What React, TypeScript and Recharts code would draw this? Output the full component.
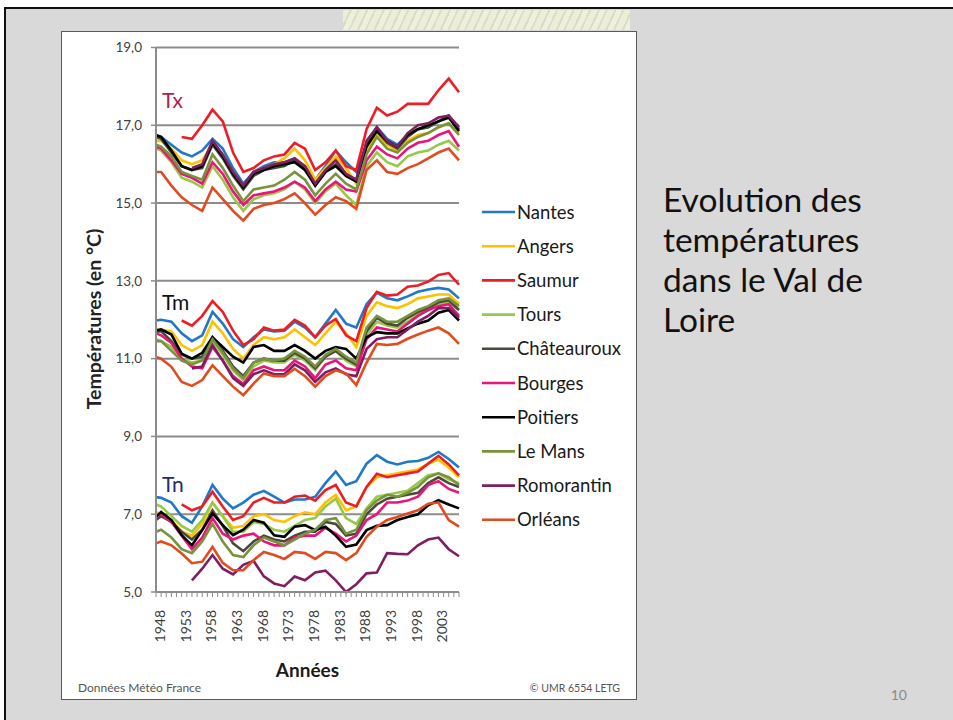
import { LineChart, Line, XAxis, YAxis, CartesianGrid } from 'recharts';

const FONT = 'Lato, "Open Sans", sans-serif';

// sampled years (the curves are read every two years off the picture)
const YEARS = [
  1948, 1949, 1951, 1953, 1955, 1957, 1959, 1961, 1963, 1965, 1967, 1969, 1971, 1973, 1975, 1977,
  1979, 1981, 1983, 1985, 1987, 1989, 1991, 1993, 1995, 1997, 1999, 2001, 2003, 2005, 2007,
];

const STATIONS = [
  'Nantes', 'Angers', 'Saumur', 'Tours', 'Châteauroux',
  'Bourges', 'Poitiers', 'Le Mans', 'Romorantin', 'Orléans',
];

const COLORS = [
  '#1f78c8', '#ffc000', '#ee1c25', '#98c84a', '#4a4a3c',
  '#ec1379', '#000000', '#77933c', '#7f1f5f', '#e24a1f',
];

const TX: Record<string, (number | null)[]> = {
  Nantes: [16.7, 16.7, 16.5, 16.3, 16.2, 16.35, 16.65, 16.4, 15.9, 15.5, 15.8, 15.95, 16.05, 16.05, 16.1, 15.95, 15.6, 15.95, 16.35, 16.05, 15.8, 16.5, 16.95, 16.65, 16.5, 16.75, 16.9, 16.95, 17.1, 17.2, 16.95],
  Angers: [16.6, 16.6, 16.4, 16.1, 16.0, 16.1, 16.5, 16.2, 15.8, 15.4, 15.75, 15.9, 16.0, 16.15, 16.4, 16.1, 15.6, 15.9, 16.2, 15.9, 15.5, 16.35, 16.8, 16.5, 16.35, 16.6, 16.75, 16.8, 16.95, 17.05, 16.8],
  Saumur: [null, null, null, 16.7, 16.65, 17.0, 17.4, 17.1, 16.3, 15.8, 15.9, 16.1, 16.2, 16.25, 16.55, 16.4, 15.85, 16.05, 16.35, 15.95, 15.85, 16.9, 17.45, 17.25, 17.35, 17.55, 17.55, 17.55, 17.9, 18.2, 17.85],
  Tours: [16.4, 16.35, 16.05, 15.65, 15.55, 15.4, 15.95, 15.6, 15.15, 14.8, 15.1, 15.2, 15.25, 15.35, 15.55, 15.35, 15.0, 15.3, 15.5, 15.2, 14.95, 15.95, 16.3, 16.05, 15.95, 16.2, 16.3, 16.35, 16.5, 16.6, 16.35],
  'Châteauroux': [16.7, 16.65, 16.3, 15.95, 15.85, 15.9, 16.5, 16.15, 15.7, 15.35, 15.7, 15.85, 15.9, 15.95, 16.1, 15.9, 15.45, 15.8, 16.0, 15.7, 15.6, 16.55, 16.85, 16.55, 16.4, 16.7, 16.9, 16.95, 17.1, 17.25, 16.9],
  Bourges: [16.45, 16.4, 16.1, 15.75, 15.65, 15.5, 16.05, 15.75, 15.3, 14.95, 15.2, 15.25, 15.3, 15.4, 15.55, 15.4, 15.05, 15.35, 15.55, 15.35, 15.3, 16.1, 16.45, 16.25, 16.15, 16.4, 16.55, 16.6, 16.75, 16.85, 16.45],
  Poitiers: [16.75, 16.7, 16.35, 15.95, 15.85, 15.95, 16.55, 16.2, 15.75, 15.4, 15.75, 15.85, 15.95, 16.0, 16.05, 15.85, 15.45, 15.8, 15.95, 15.7, 15.55, 16.45, 16.85, 16.6, 16.45, 16.75, 16.9, 17.0, 17.1, 17.2, 16.85],
  'Le Mans': [16.5, 16.45, 16.2, 15.8, 15.7, 15.6, 16.25, 15.9, 15.45, 15.05, 15.35, 15.4, 15.45, 15.6, 15.8, 15.6, 15.2, 15.5, 15.75, 15.5, 15.35, 16.25, 16.7, 16.4, 16.3, 16.55, 16.7, 16.8, 16.95, 17.05, 16.75],
  Romorantin: [null, null, null, null, 15.9, 16.0, 16.6, 16.25, 15.8, 15.45, 15.8, 15.9, 16.0, 16.05, 16.15, 15.95, 15.5, 15.85, 16.1, 15.75, 15.6, 16.6, 16.95, 16.6, 16.45, 16.8, 17.0, 17.05, 17.2, 17.25, 16.95],
  'Orléans': [15.8, 15.8, 15.45, 15.15, 14.95, 14.8, 15.4, 15.1, 14.8, 14.55, 14.85, 14.95, 15.0, 15.1, 15.25, 15.0, 14.7, 14.95, 15.15, 15.05, 14.85, 15.85, 16.1, 15.8, 15.75, 15.9, 16.0, 16.15, 16.3, 16.4, 16.1],
};

const TM: Record<string, (number | null)[]> = {
  Nantes: [11.98, 12.0, 11.95, 11.65, 11.45, 11.6, 12.2, 11.9, 11.5, 11.3, 11.55, 11.75, 11.7, 11.72, 11.95, 11.8, 11.55, 11.9, 12.25, 11.9, 11.8, 12.4, 12.7, 12.55, 12.5, 12.6, 12.72, 12.78, 12.82, 12.78, 12.55],
  Angers: [11.75, 11.75, 11.7, 11.35, 11.2, 11.35, 11.95, 11.65, 11.25, 11.0, 11.35, 11.55, 11.5, 11.55, 11.75, 11.55, 11.35, 11.65, 11.95, 11.65, 11.3, 12.1, 12.45, 12.35, 12.3, 12.4, 12.55, 12.6, 12.65, 12.65, 12.4],
  Saumur: [null, null, null, 11.98, 11.85, 12.1, 12.48, 12.2, 11.72, 11.35, 11.5, 11.8, 11.72, 11.75, 12.0, 11.85, 11.55, 11.85, 12.02, 11.6, 11.45, 12.3, 12.72, 12.62, 12.65, 12.85, 12.88, 12.98, 13.15, 13.2, 12.9],
  Tours: [11.5, 11.45, 11.3, 11.0, 10.9, 10.95, 11.45, 11.1, 10.7, 10.45, 10.8, 10.95, 10.9, 10.9, 11.1, 10.95, 10.7, 11.05, 11.2, 10.95, 10.8, 11.6, 11.95, 11.85, 11.8, 11.95, 12.15, 12.25, 12.4, 12.45, 12.25],
  'Châteauroux': [11.7, 11.7, 11.45, 11.1, 11.0, 11.05, 11.55, 11.2, 10.8, 10.55, 10.9, 11.0, 10.95, 10.95, 11.15, 11.0, 10.75, 11.05, 11.2, 11.0, 10.85, 11.7, 12.05, 11.9, 11.85, 12.05, 12.2, 12.3, 12.45, 12.5, 12.25],
  Bourges: [11.65, 11.6, 11.4, 11.0, 10.8, 10.75, 11.3, 10.95, 10.55, 10.35, 10.7, 10.8, 10.7, 10.7, 10.95, 10.8, 10.5, 10.85, 10.95, 10.75, 10.7, 11.5, 11.8, 11.75, 11.7, 11.9, 12.1, 12.25, 12.35, 12.4, 12.1],
  Poitiers: [11.72, 11.75, 11.62, 11.13, 11.0, 11.15, 11.55, 11.3, 11.05, 10.9, 11.3, 11.35, 11.2, 11.2, 11.35, 11.2, 11.0, 11.2, 11.3, 11.25, 11.0, 11.55, 11.68, 11.65, 11.65, 11.78, 11.9, 11.98, 12.18, 12.25, 11.98],
  'Le Mans': [11.45, 11.45, 11.2, 10.95, 10.85, 10.95, 11.5, 11.15, 10.75, 10.5, 10.9, 11.0, 10.95, 11.0, 11.2, 11.05, 10.8, 11.1, 11.25, 11.05, 10.9, 11.8, 12.1, 11.95, 11.95, 12.1, 12.25, 12.35, 12.5, 12.55, 12.35],
  Romorantin: [null, null, null, null, 10.75, 10.8, 11.35, 10.95, 10.5, 10.3, 10.6, 10.7, 10.6, 10.6, 10.85, 10.7, 10.4, 10.65, 10.75, 10.6, 10.55, 11.25, 11.5, 11.55, 11.55, 11.75, 11.95, 12.1, 12.3, 12.3, 12.05],
  'Orléans': [11.04, 11.0, 10.79, 10.4, 10.3, 10.45, 10.83, 10.55, 10.28, 10.06, 10.36, 10.62, 10.55, 10.55, 10.74, 10.55, 10.28, 10.55, 10.7, 10.62, 10.32, 10.9, 11.38, 11.35, 11.38, 11.51, 11.62, 11.72, 11.8, 11.65, 11.38],
};

const TN: Record<string, (number | null)[]> = {
  Nantes: [7.44, 7.42, 7.3, 6.95, 6.78, 7.2, 7.75, 7.4, 7.15, 7.3, 7.5, 7.6, 7.45, 7.3, 7.38, 7.38, 7.45, 7.8, 8.1, 7.75, 7.85, 8.3, 8.52, 8.35, 8.28, 8.35, 8.37, 8.45, 8.6, 8.42, 8.2],
  Angers: [7.05, 7.0, 6.85, 6.55, 6.45, 6.75, 7.3, 6.95, 6.65, 6.7, 6.95, 7.0, 6.85, 6.8, 6.95, 7.05, 7.0, 7.3, 7.5, 7.1, 7.2, 7.7, 7.95, 8.0, 8.05, 8.1, 8.15, 8.3, 8.4, 8.2, 7.95],
  Saumur: [null, null, null, 7.25, 7.1, 7.2, 7.58, 7.2, 6.85, 6.95, 7.3, 7.42, 7.3, 7.3, 7.45, 7.48, 7.35, 7.62, 7.75, 7.3, 7.2, 7.7, 8.04, 7.95, 8.0, 8.05, 8.1, 8.3, 8.5, 8.28, 8.0],
  Tours: [7.25, 7.2, 6.95, 6.7, 6.55, 6.85, 7.3, 6.95, 6.55, 6.55, 6.8, 6.75, 6.6, 6.55, 6.7, 6.85, 6.9, 7.2, 7.4, 6.9, 6.75, 7.15, 7.45, 7.5, 7.55, 7.6, 7.8, 8.0, 8.05, 7.9, 7.8],
  'Châteauroux': [6.85, 6.95, 6.8, 6.55, 6.35, 6.6, 7.1, 6.7, 6.25, 6.05, 6.3, 6.45, 6.35, 6.3, 6.45, 6.55, 6.55, 6.8, 6.75, 6.45, 6.5, 7.0, 7.25, 7.4, 7.45, 7.5, 7.55, 7.8, 7.95, 7.8, 7.7],
  Bourges: [6.95, 7.0, 6.8, 6.45, 6.1, 6.4, 6.9, 6.5, 6.35, 6.45, 6.5, 6.3, 6.2, 6.2, 6.4, 6.45, 6.45, 6.65, 6.5, 6.3, 6.45, 6.85, 7.0, 7.3, 7.3, 7.35, 7.45, 7.75, 7.85, 7.65, 7.55],
  Poitiers: [6.93, 7.06, 6.85, 6.46, 6.2, 6.59, 7.02, 6.72, 6.46, 6.6, 6.85, 6.78, 6.46, 6.42, 6.68, 6.72, 6.59, 6.68, 6.45, 6.16, 6.22, 6.59, 6.7, 6.72, 6.85, 6.93, 7.0, 7.23, 7.36, 7.25, 7.15],
  'Le Mans': [6.55, 6.6, 6.4, 6.1, 6.0, 6.3, 6.75, 6.3, 5.95, 5.9, 6.2, 6.4, 6.3, 6.2, 6.35, 6.5, 6.6, 6.85, 6.9, 6.5, 6.6, 7.1, 7.35, 7.5, 7.45, 7.55, 7.7, 7.95, 8.05, 7.95, 7.75],
  Romorantin: [null, null, null, null, 5.3, 5.6, 5.95, 5.6, 5.45, 5.7, 5.8, 5.4, 5.22, 5.15, 5.4, 5.3, 5.5, 5.55, 5.3, 5.0, 5.2, 5.48, 5.5, 6.0, 5.98, 5.97, 6.2, 6.35, 6.4, 6.1, 5.92],
  'Orléans': [6.25, 6.3, 6.2, 5.99, 5.74, 5.78, 6.16, 5.75, 5.56, 5.56, 5.82, 6.03, 5.95, 5.85, 6.03, 6.0, 5.85, 6.03, 6.0, 5.82, 6.0, 6.42, 6.68, 6.85, 6.93, 7.02, 7.1, 7.27, 7.3, 6.85, 6.68],
};

const GROUPS = [
  { key: 'Tx', values: TX },
  { key: 'Tm', values: TM },
  { key: 'Tn', values: TN },
];

const Y_TICKS = [5, 7, 9, 11, 13, 15, 17, 19];
const X_TICKS = Array.from({ length: 60 }, (_, i) => 1948 + i);
const X_LABELS = [1948, 1953, 1958, 1963, 1968, 1973, 1978, 1983, 1988, 1993, 1998, 2003];

const TITLE_LINES = ['Evolution des', 'températures', 'dans le Val de', 'Loire'];

const rows = YEARS.map((year, i) => {
  const row: Record<string, number | null> = { year };
  GROUPS.forEach((g) => {
    STATIONS.forEach((s) => {
      row[`${g.key}_${s}`] = g.values[s][i];
    });
  });
  return row;
});

const GRID = '#8c8c8c';

function YearTick({ x, y, payload }: any) {
  if (!X_LABELS.includes(payload.value)) return <g />;
  return (
    <text
      transform={`translate(${x + 9}, ${y + 11}) rotate(-90)`}
      textAnchor="end"
      fontSize={14}
      fill="#404040"
      fontFamily={FONT}
    >
      {payload.value}
    </text>
  );
}

function TempChart() {
  return (
    <LineChart width={953} height={720} data={rows} margin={{ top: 47.5, right: 494, bottom: 68, left: 106 }}>
      <CartesianGrid vertical={false} stroke={GRID} strokeWidth={2} />
      <XAxis
        dataKey="year"
        type="number"
        domain={[1948, 2007]}
        ticks={X_TICKS}
        interval={0}
        tick={<YearTick />}
        tickSize={5}
        tickLine={{ stroke: GRID }}
        axisLine={{ stroke: GRID, strokeWidth: 2 }}
        height={60}
      />
      <YAxis
        type="number"
        domain={[5, 19]}
        ticks={Y_TICKS}
        interval={0}
        tickFormatter={(v: number) => v.toFixed(1).replace('.', ',')}
        tick={{ fontSize: 13.5, fill: '#404040', fontFamily: FONT }}
        tickSize={5}
        tickMargin={9}
        tickLine={{ stroke: GRID, strokeWidth: 1.5 }}
        axisLine={{ stroke: GRID, strokeWidth: 2 }}
        width={50}
      />
      {GROUPS.map((g) =>
        STATIONS.map((s, i) => (
          <Line
            key={`${g.key}_${s}`}
            dataKey={`${g.key}_${s}`}
            type="linear"
            stroke={COLORS[i]}
            strokeWidth={2.6}
            dot={false}
            activeDot={false}
            isAnimationActive={false}
          />
        )),
      )}
    </LineChart>
  );
}

export default function App() {
  return (
    <div
      style={{
        position: 'absolute',
        left: 0,
        top: 0,
        width: 953,
        height: 720,
        background: '#fff',
        overflow: 'hidden',
        fontFamily: FONT,
      }}
    >
      <div
        style={{
          position: 'absolute',
          left: 4,
          top: 7,
          width: 980,
          height: 740,
          background: '#d9d9d9',
          border: '2px solid #111',
        }}
      />
      <div
        style={{
          position: 'absolute',
          left: 343,
          top: 10,
          width: 287,
          height: 20,
          opacity: 0.9,
          background:
            'repeating-linear-gradient(115deg, #eef1d6 0px, #eef1d6 6px, #d9dcc6 6px, #d9dcc6 8px, #f1f3dc 8px, #f1f3dc 13px, #dcdfc9 13px, #dcdfc9 15px)',
        }}
      />
      <div
        style={{
          position: 'absolute',
          left: 61,
          top: 31,
          width: 576,
          height: 669,
          boxSizing: 'border-box',
          background: '#fff',
          border: '1px solid #5a5a5a',
        }}
      />
      <div style={{ position: 'absolute', left: 0, top: 0 }}>
        <TempChart />
      </div>
      <svg
        width={953}
        height={720}
        style={{ position: 'absolute', left: 0, top: 0, pointerEvents: 'none' }}
        fontFamily={FONT}
      >
        <text x={162} y={108} fontSize={21} fill="#b01e4a">Tx</text>
        <text x={162} y={310} fontSize={21} fill="#111">Tm</text>
        <text x={162} y={492} fontSize={21} fill="#1f2d6b">Tn</text>
        <text
          transform="translate(101, 319) rotate(-90)"
          textAnchor="middle"
          fontSize={19.5}
          fontWeight="bold"
          fill="#222"
        >
          Températures (en °C)
        </text>
        <text x={307.5} y={677} textAnchor="middle" fontSize={19} fontWeight="bold" fill="#1a1a1a">
          Années
        </text>
        <text x={78} y={692} fontSize={12} fill="#555">Données Météo France</text>
        <text x={620} y={692} textAnchor="end" fontSize={10.5} fill="#555">© UMR 6554 LETG</text>
        {STATIONS.map((s, i) => {
          const cy = 212 + i * 34.2;
          return (
            <g key={s}>
              <line x1={482} x2={515} y1={cy} y2={cy} stroke={COLORS[i]} strokeWidth={2.6} />
              <text x={517} y={cy + 6.5} fontSize={18.5} fill="#1a1a1a">{s}</text>
            </g>
          );
        })}
        {TITLE_LINES.map((t, i) => (
          <text key={t} x={663} y={212 + i * 40} fontSize={33.5} fill="#111">{t}</text>
        ))}
        <text x={907} y={700} textAnchor="end" fontSize={14} fill="#8a8a8a">10</text>
      </svg>
    </div>
  );
}
